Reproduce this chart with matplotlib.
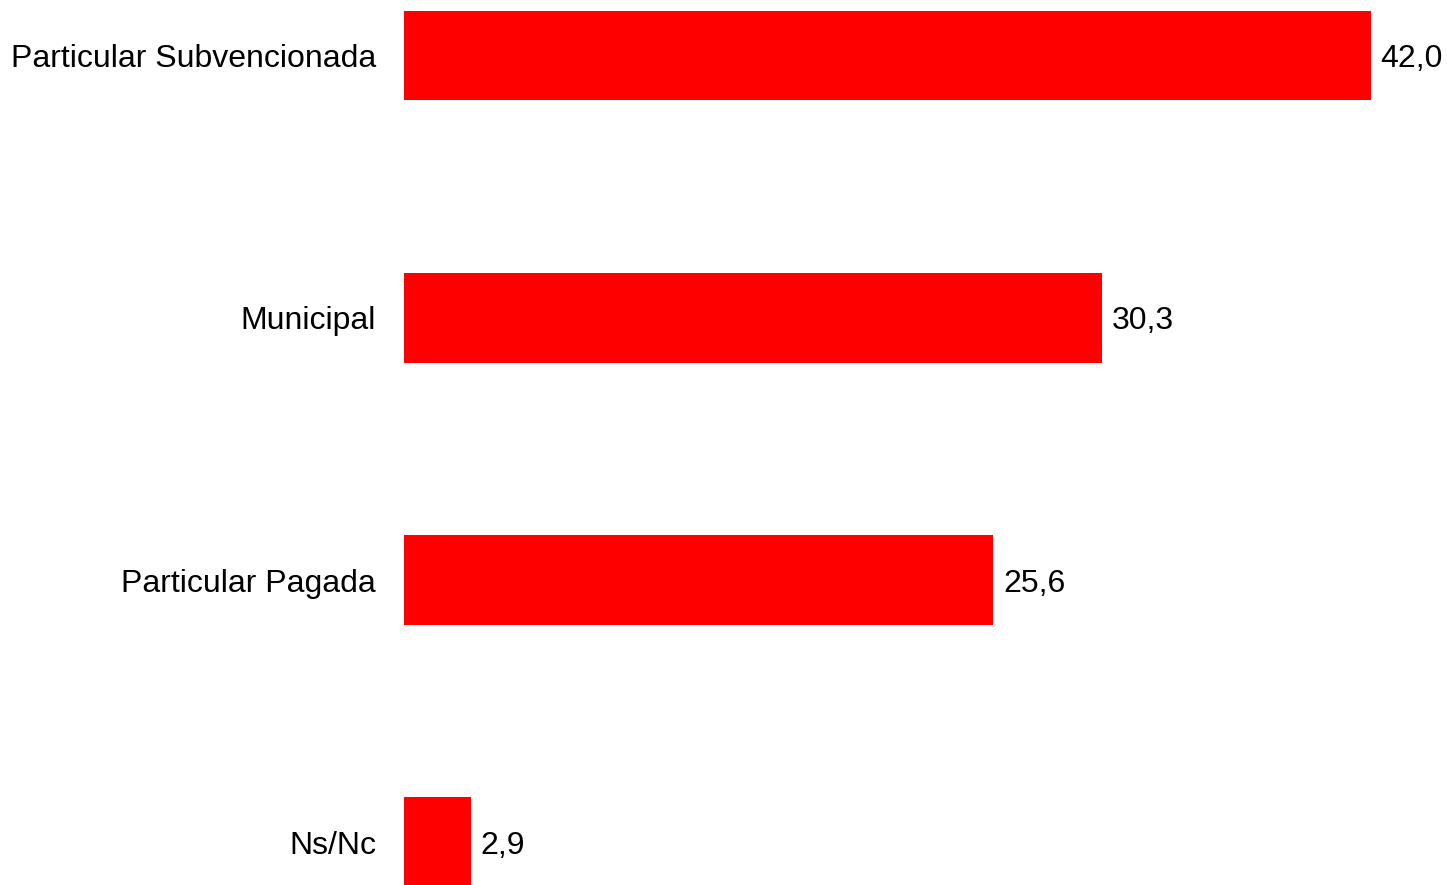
import numpy as np
import matplotlib.pyplot as plt

# data
categories = ["Particular Subvencionada", "Municipal", "Particular Pagada", "Ns/Nc"]
values = [42.0, 30.3, 25.6, 2.9]
value_labels = ["42,0", "30,3", "25,6", "2,9"]

plt.rcParams['font.family'] = ['Liberation Sans', 'DejaVu Sans']

W, H = 1447, 885
fig = plt.figure(figsize=(W / 100, H / 100), dpi=100)

# axes placed so the bar scale matches the picture
ax = fig.add_axes([404 / W, 0, 967 / W, 1])
y = np.arange(len(categories))
ax.barh(y, values, height=0.343, color='#ff0000')
ax.set_xlim(0, 42)
ax.set_ylim(3.1624, -0.2116)

ax.set_yticks(y)
ax.set_yticklabels(categories, fontsize=23)
ax.tick_params(axis='y', length=0, pad=20)
ax.set_xticks([])
for s in ax.spines.values():
    s.set_visible(False)

for yi, v, lab in zip(y, values, value_labels):
    ax.annotate(lab, (v, yi), xytext=(7, 0), textcoords='offset points',
                va='center_baseline', ha='left', fontsize=23,
                annotation_clip=False)

fig.savefig("out.png", dpi=100)
